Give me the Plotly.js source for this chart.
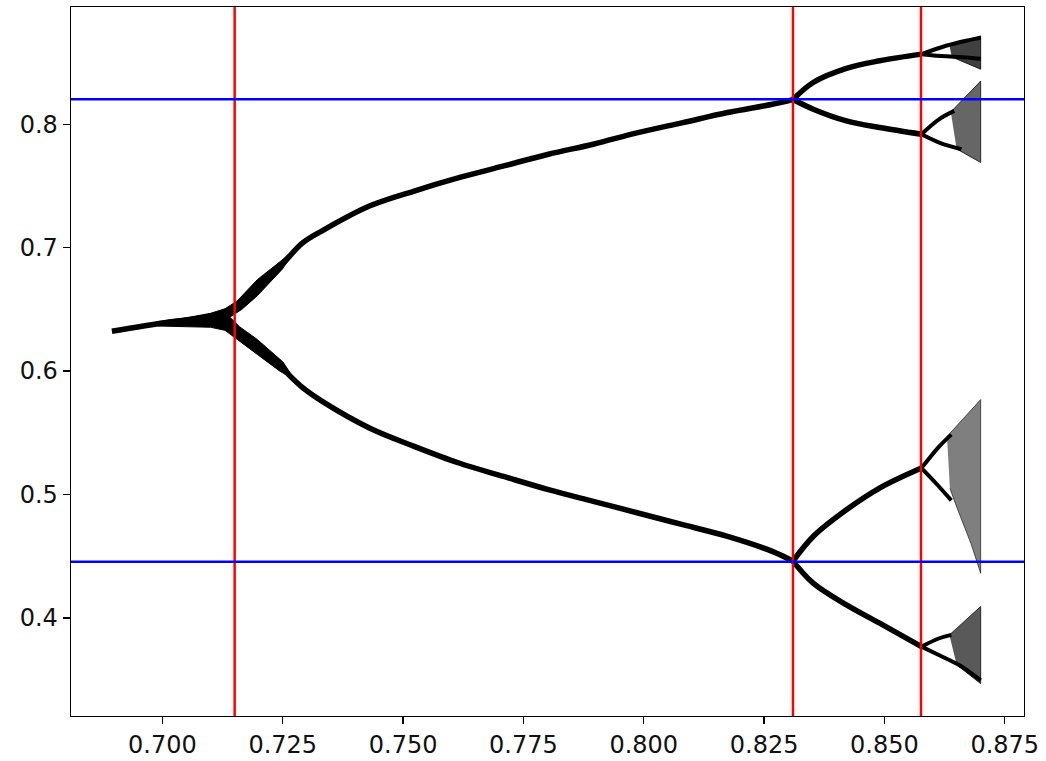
<!DOCTYPE html>
<html>
<head>
<meta charset="utf-8">
<script src="https://cdn.plot.ly/plotly-3.0.1.min.js"></script>
<style>html,body{margin:0;padding:0;background:#fff;}#chart{width:1046px;height:761px;}</style>
</head>
<body>
<div id="chart"></div>
<script>
// ---- data ----
// period-1 then upper period-2 branch
var upR = [0.6895, 0.7011, 0.7104, 0.7155, 0.7197, 0.7244, 0.7290, 0.7337, 0.7430, 0.7523, 0.7616, 0.7709, 0.7802, 0.7895, 0.7988, 0.8081, 0.8174, 0.8267, 0.8310];
var upY = [0.6323, 0.6396, 0.6445, 0.6505, 0.6675, 0.6843, 0.7035, 0.7148, 0.7337, 0.7459, 0.7567, 0.7662, 0.7757, 0.7838, 0.7932, 0.8013, 0.8095, 0.8162, 0.8200];
// lower period-2 branch
var loR = [0.7155, 0.7197, 0.7244, 0.7290, 0.7337, 0.7430, 0.7523, 0.7616, 0.7709, 0.7802, 0.7895, 0.7988, 0.8081, 0.8174, 0.8267, 0.8310];
var loY = [0.6300, 0.6195, 0.6039, 0.5870, 0.5742, 0.5539, 0.5390, 0.5255, 0.5146, 0.5039, 0.4944, 0.4850, 0.4755, 0.4660, 0.4539, 0.4460];
// widened band around the first split
var fanR = [0.6990, 0.7050, 0.7100, 0.7130, 0.7155, 0.7197, 0.7244, 0.7275, 0.7250, 0.7197, 0.7165, 0.7140, 0.7160, 0.7197, 0.7250, 0.7275, 0.7244, 0.7197, 0.7155, 0.7130, 0.7100, 0.7050, 0.6990];
var fanY = [0.6400, 0.6432, 0.6468, 0.6505, 0.6567, 0.6740, 0.6885, 0.6990, 0.6830, 0.6610, 0.6500, 0.6437, 0.6360, 0.6256, 0.6075, 0.5930, 0.5999, 0.6134, 0.6256, 0.6330, 0.6355, 0.6360, 0.6365];
// period-4 branches
var p4R = [0.8310, 0.8352, 0.8421, 0.8490, 0.8577];
var p4aY = [0.8200, 0.8338, 0.8452, 0.8514, 0.8568];
var p4bY = [0.8200, 0.8122, 0.8027, 0.7973, 0.7919];
var p4cY = [0.4460, 0.4660, 0.4876, 0.5052, 0.5214];
var p4dY = [0.4460, 0.4281, 0.4105, 0.3957, 0.3767];
// period-8 branches
var p8aUpR = [0.8577, 0.8628, 0.8670, 0.8700], p8aUpY = [0.8568, 0.8636, 0.8677, 0.8700];
var p8aDnR = [0.8577, 0.8628, 0.8670, 0.8700], p8aDnY = [0.8568, 0.8550, 0.8541, 0.8530];
var p8bUpR = [0.8577, 0.8614, 0.8645], p8bUpY = [0.7919, 0.8041, 0.8108];
var p8bDnR = [0.8577, 0.8614, 0.8660], p8bDnY = [0.7919, 0.7852, 0.7797];
var p8cUpR = [0.8577, 0.8614, 0.8639], p8cUpY = [0.5214, 0.5390, 0.5485];
var p8cDnR = [0.8577, 0.8608, 0.8639], p8cDnY = [0.5214, 0.5087, 0.4952];
var p8dUpR = [0.8577, 0.8614, 0.8639], p8dUpY = [0.3767, 0.3835, 0.3862];
var p8dDnR = [0.8577, 0.8614, 0.8656, 0.8700], p8dDnY = [0.3767, 0.3697, 0.3616, 0.3494];
// chaotic bands near the end
var chAR = [0.8635, 0.8700, 0.8700, 0.8640], chAY = [0.8640, 0.8716, 0.8446, 0.8545];
var chBR = [0.8638, 0.8700, 0.8700, 0.8650], chBY = [0.8100, 0.8350, 0.7690, 0.7800];
var chCR = [0.8630, 0.8700, 0.8700, 0.8680, 0.8650, 0.8636], chCY = [0.5470, 0.5769, 0.4362, 0.4600, 0.4900, 0.5050];
var chDR = [0.8635, 0.8700, 0.8700, 0.8650], chDY = [0.3862, 0.4092, 0.3467, 0.3620];
// reference lines
var redX = [0.715, 0.831, 0.8576];
var blueY = [0.8203, 0.4454];
var xTickStep = 0.025, yTickStep = 0.1;

var traces = [];
function branch(x, y, w) {
  traces.push({x: x, y: y, type: 'scatter', mode: 'lines', line: {color: 'black', width: w || 5.5, shape: 'spline'}, hoverinfo: 'skip', showlegend: false});
}
function poly(x, y, col, lc) {
  traces.push({x: x, y: y, type: 'scatter', mode: 'lines', fill: 'toself', fillcolor: col, line: {color: lc, width: 1, shape: 'linear'}, hoverinfo: 'skip', showlegend: false});
}
poly(fanR, fanY, 'black', 'black');
branch(upR, upY);
branch(loR, loY);
branch(p4R, p4aY); branch(p4R, p4bY); branch(p4R, p4cY); branch(p4R, p4dY);
branch(p8aUpR, p8aUpY, 4); branch(p8aDnR, p8aDnY, 4);
branch(p8bUpR, p8bUpY, 4); branch(p8bDnR, p8bDnY, 4);
branch(p8cUpR, p8cUpY, 4); branch(p8cDnR, p8cDnY, 4);
branch(p8dUpR, p8dUpY, 4); branch(p8dDnR, p8dDnY, 4);
poly(chAR, chAY, 'rgba(0,0,0,0.75)', 'rgba(0,0,0,0.8)');
poly(chBR, chBY, 'rgba(0,0,0,0.6)', 'rgba(0,0,0,0.75)');
poly(chCR, chCY, 'rgba(0,0,0,0.5)', 'rgba(0,0,0,0.6)');
poly(chDR, chDY, 'rgba(0,0,0,0.65)', 'rgba(0,0,0,0.75)');

var shapes = [];
redX.forEach(function (v) {
  shapes.push({type: 'line', xref: 'x', yref: 'paper', x0: v, x1: v, y0: 0, y1: 1, line: {color: '#ff0000', width: 2.5}, layer: 'above'});
});
blueY.forEach(function (v) {
  shapes.push({type: 'line', xref: 'paper', yref: 'y', x0: 0, x1: 1, y0: v, y1: v, line: {color: '#0000ff', width: 2.5}, layer: 'above'});
});

var axisCommon = {
  showgrid: false, zeroline: false, showline: true, linecolor: 'black', linewidth: 1.3, mirror: true,
  ticks: 'outside', ticklen: 7, tickwidth: 1.3, tickcolor: 'black',
  tickfont: {family: 'DejaVu Sans, sans-serif', size: 24, color: '#111'}
};
var layout = {
  width: 1046, height: 761,
  margin: {l: 71, r: 22, t: 7, b: 45},
  paper_bgcolor: 'white', plot_bgcolor: 'white',
  showlegend: false,
  xaxis: Object.assign({}, axisCommon, {range: [0.681, 0.879], tick0: 0.7, dtick: xTickStep, tickformat: '.3f'}),
  yaxis: Object.assign({}, axisCommon, {range: [0.3205, 0.895], tick0: 0.4, dtick: yTickStep, tickformat: '.1f'}),
  shapes: shapes
};
Plotly.newPlot('chart', traces, layout, {staticPlot: true, displayModeBar: false});
</script>
</body>
</html>
